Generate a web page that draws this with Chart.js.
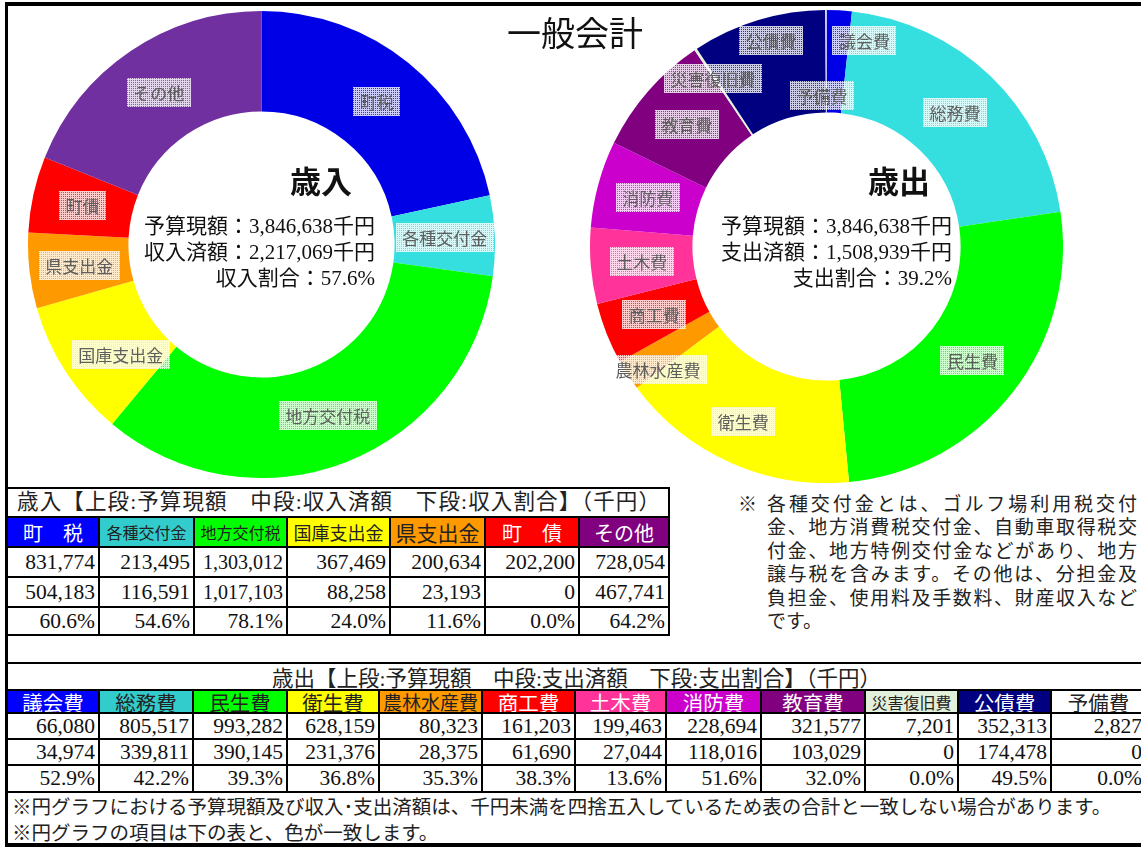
<!DOCTYPE html>
<html lang="ja">
<head>
<meta charset="utf-8">
<script src="https://cdn.jsdelivr.net/npm/chart.js@4.4.1/dist/chart.umd.min.js"></script>
<style>
body { margin:0; width:1141px; height:849px; overflow:hidden; background:#fff; position:relative;
  font-family:"Liberation Serif","Noto Sans CJK JP",serif; color:#111; }
#frame { position:absolute; left:5px; top:2px; width:1150px; height:837px;
  border-top:4px solid #000; border-left:3px solid #000; border-bottom:4px solid #000; }
canvas { position:absolute; }
#pieIn { left:28px; top:11px; }
#pieOut { left:590px; top:10px; }
.txt { position:absolute; white-space:nowrap; }
#title { left:507px; top:14px; font-size:34px; line-height:36px; font-family:"Noto Sans CJK JP"; }
.big { font-size:31px; line-height:31px; font-weight:bold; font-family:"Noto Sans CJK JP"; }
.sum { font-size:21px; line-height:26px; text-align:right; }
.cell { position:absolute; box-sizing:border-box; display:flex; align-items:center; white-space:nowrap; overflow:hidden; }
.num { justify-content:flex-end; padding-right:4px; font-size:21.5px; }
.head { justify-content:center; font-size:20px; }
.line { position:absolute; background:#000; }
#note { left:738px; top:491px; font-size:19px; line-height:23.4px; font-family:"Noto Sans CJK JP"; color:#222; }
#note .body { position:absolute; left:29px; top:0; width:370px; }
#note .body div { text-align:justify; text-align-last:justify; }
#note .body div.last { text-align-last:left; }
</style>
</head>
<body>
<div id="frame"></div>
<canvas id="pieIn" width="467" height="467"></canvas>
<canvas id="pieOut" width="473" height="473"></canvas>
<div id="sheet"></div>
<script>
// 歳入
const revenueCategories = ['町税', '各種交付金', '地方交付税', '国庫支出金', '県支出金', '町債', 'その他'];
const revenueBudget = [831774, 213495, 1303012, 367469, 200634, 202200, 728054];
const revenueReceived = [504183, 116591, 1017103, 88258, 23193, 0, 467741];
const revenueRate = [60.6, 54.6, 78.1, 24.0, 11.6, 0.0, 64.2];
const revenueSummary = ['予算現額：3,846,638千円', '収入済額：2,217,069千円', '収入割合：57.6%'];

// 歳出
const expenseCategories = ['議会費', '総務費', '民生費', '衛生費', '農林水産費', '商工費', '土木費', '消防費', '教育費', '災害復旧費', '公債費', '予備費'];
const expenseBudget = [66080, 805517, 993282, 628159, 80323, 161203, 199463, 228694, 321577, 7201, 352313, 2827];
const expenseSpent = [34974, 339811, 390145, 231376, 28375, 61690, 27044, 118016, 103029, 0, 174478, 0];
const expenseRate = [52.9, 42.2, 39.3, 36.8, 35.3, 38.3, 13.6, 51.6, 32.0, 0.0, 49.5, 0.0];
const expenseSummary = ['予算現額：3,846,638千円', '支出済額：1,508,939千円', '支出割合：39.2%'];

// colours
const revenuePieColors = ['#0000E6', '#36DFDF', '#00FF00', '#FFFF00', '#FF9900', '#FF0000', '#7030A0'];
const revenueHeadColors = ['#0000FF', '#33CCCC', '#00FF00', '#FFFF00', '#FF9900', '#FF0000', '#800080'];
const revenueHeadText = ['#fff', '#222', '#222', '#222', '#222', '#fff', '#fff'];
const revenueHeadSize = [20, 16, 16, 18, 21, 20, 20];
const expensePieColors = ['#0000E6', '#36DFDF', '#00FF00', '#FFFF00', '#FF9900', '#FF0000', '#FF3399', '#CC00CC', '#800080', '#E2EFDA', '#000080', '#FFFFFF'];
const expenseHeadColors = ['#0000FF', '#33CCCC', '#00FF00', '#FFFF00', '#FF9900', '#FF0000', '#FF3399', '#CC00CC', '#800080', '#E2EFDA', '#000080', '#FFFFFF'];
const expenseHeadText = ['#fff', '#222', '#222', '#222', '#222', '#fff', '#fff', '#fff', '#fff', '#222', '#fff', '#222'];
const expenseHeadSize = [20.5, 20.5, 20.5, 20.5, 19, 20.5, 20.5, 20.5, 20.5, 16, 20.5, 20.5];

// label nudges (Excel had some labels dragged)
const revenueNudge = [null, null, null, [13, 10], null, null, null];
const expenseNudge = [[28, -21], null, null, [-8, 6], [-13, 22], null, null, null, null, [-11, -14], [-2, -29], [-4, 34]];

function meshPattern(ctx) {
    const c = document.createElement('canvas');
    c.width = 2; c.height = 2;
    const g = c.getContext('2d');
    g.fillStyle = 'rgba(255,255,255,0.8)';
    g.fillRect(0, 0, 2, 1);
    g.fillRect(0, 1, 1, 1);
    g.fillStyle = 'rgba(255,255,255,0.2)';
    g.fillRect(1, 1, 1, 1);
    return ctx.createPattern(c, 'repeat');
}

function labelPlugin(nudges) {
    return {
        id: 'sliceLabels',
        afterDatasetsDraw(chart) {
            const ctx = chart.ctx;
            const meta = chart.getDatasetMeta(0);
            const mesh = meshPattern(ctx);
            ctx.save();
            ctx.font = '17px "Noto Sans CJK JP"';
            ctx.textAlign = 'center';
            ctx.textBaseline = 'middle';
            meta.data.forEach((arc, i) => {
                const p = arc.tooltipPosition();
                const n = nudges[i] || [0, 0];
                const x = p.x + n[0], y = p.y + n[1];
                const text = chart.data.labels[i];
                const w = ctx.measureText(text).width + 13;
                const h = 29;
                ctx.fillStyle = mesh;
                ctx.fillRect(Math.round(x - w / 2), Math.round(y - h / 2), Math.round(w), h);
                ctx.fillStyle = '#5e5e5e';
                ctx.fillText(text, x, y + 1);
            });
            ctx.restore();
        }
    };
}

function makeDoughnut(id, labels, values, colors, cutout, nudges) {
    return new Chart(document.getElementById(id), {
        type: 'doughnut',
        data: {
            labels: labels,
            datasets: [{ data: values, backgroundColor: colors, borderWidth: 0 }]
        },
        options: {
            responsive: false,
            animation: false,
            cutout: cutout,
            layout: { padding: 0 },
            plugins: { legend: { display: false }, tooltip: { enabled: false } }
        },
        plugins: [labelPlugin(nudges)]
    });
}

makeDoughnut('pieIn', revenueCategories, revenueBudget, revenuePieColors, '57%', revenueNudge);
makeDoughnut('pieOut', expenseCategories, expenseBudget, expensePieColors, '56.7%', expenseNudge);

const sheet = document.getElementById('sheet');

function addText(html, cls, style) {
    const d = document.createElement('div');
    d.className = 'txt ' + cls;
    Object.assign(d.style, style);
    d.innerHTML = html;
    sheet.appendChild(d);
    return d;
}

addText('一般会計', '', {}).id = 'title';
addText('歳入', 'big', { left: '290px', top: '164px' });
addText(revenueSummary.join('<br>'), 'sum', { right: (1141 - 375) + 'px', top: '213px' });
addText('歳出', 'big', { left: '868px', top: '164px' });
addText(expenseSummary.join('<br>'), 'sum', { right: (1141 - 952) + 'px', top: '213px' });

const noteLines = ['各種交付金とは、ゴルフ場利用税交付', '金、地方消費税交付金、自動車取得税交', '付金、地方特例交付金などがあり、地方',
    '譲与税を含みます。その他は、分担金及', '負担金、使用料及手数料、財産収入など', 'です。'];
addText('※<div class="body">' + noteLines.map((s, i) => '<div' + (i === noteLines.length - 1 ? ' class="last"' : '') + '>' + s + '</div>').join('') + '</div>', '', {}).id = 'note';

function cell(x0, y0, x1, y1, html, cls, style) {
    const d = document.createElement('div');
    d.className = 'cell ' + (cls || '');
    d.style.left = x0 + 'px';
    d.style.top = y0 + 'px';
    d.style.width = (x1 - x0) + 'px';
    d.style.height = (y1 - y0) + 'px';
    Object.assign(d.style, style || {});
    d.innerHTML = html;
    sheet.appendChild(d);
}
function hLine(x0, x1, y) {
    const d = document.createElement('div');
    d.className = 'line';
    Object.assign(d.style, { left: (x0 - 1) + 'px', top: (y - 1) + 'px', width: (x1 - x0 + 2) + 'px', height: '2px' });
    sheet.appendChild(d);
}
function vLine(x, y0, y1) {
    const d = document.createElement('div');
    d.className = 'line';
    Object.assign(d.style, { left: (x - 1) + 'px', top: (y0 - 1) + 'px', width: '2px', height: (y1 - y0 + 2) + 'px' });
    sheet.appendChild(d);
}
const fmt = v => v.toLocaleString('en-US');
const pct = v => v.toFixed(1) + '%';
const spaced = s => s.length === 2 ? s[0] + '　' + s[1] : s;

function buildTable(xs, ys, title, titleStyle, cats, headColors, headText, headSize, rows) {
    const L = xs[0], R = xs[xs.length - 1];
    const bottom = ys[2 + rows.length];
    cell(L, ys[0], R, ys[1], title, '', titleStyle);
    cats.forEach((c, i) => {
        cell(xs[i], ys[1], xs[i + 1], ys[2], spaced(c), 'head',
            { background: headColors[i], color: headText[i], fontSize: headSize[i] + 'px', fontFamily: '"Noto Sans CJK JP"' });
        rows.forEach((r, j) => {
            cell(xs[i], ys[2 + j], xs[i + 1], ys[3 + j], r.fmt(r.values[i]), 'num', r.size ? { fontSize: r.size(i) } : {});
        });
    });
    for (let k = 0; k <= 2 + rows.length; k++) hLine(L, R, ys[k]);
    xs.forEach((x, i) => {
        if (i === 0 || i === xs.length - 1) vLine(x, ys[0], bottom);
        else vLine(x, ys[1], bottom);
    });
}

// 歳入 table
const xs1 = [7, 99, 194, 287, 390, 485, 579, 669];
const ys1 = [488, 517, 547, 577, 607, 635];
buildTable(xs1, ys1, '歳入【上段:予算現額　中段:収入済額　下段:収入割合】（千円）',
    { display: 'block', lineHeight: '29px', padding: '0 9px 0 10px', fontSize: '21.5px', textAlign: 'justify', textAlignLast: 'justify', color: '#222' },
    revenueCategories, revenueHeadColors, revenueHeadText, revenueHeadSize,
    [
        { values: revenueBudget, fmt: fmt, size: i => i === 2 ? '20px' : '21.5px' },
        { values: revenueReceived, fmt: fmt, size: i => i === 2 ? '20px' : '21.5px' },
        { values: revenueRate, fmt: pct }
    ]);

// 歳出 table
const xs2 = [7, 99, 193, 287, 379, 482, 575, 666, 761, 865, 958, 1051, 1146];
const ys2 = [663, 690, 713, 739, 765, 792];
buildTable(xs2, ys2, '歳出【上段:予算現額　中段:支出済額　下段:支出割合】（千円）',
    { justifyContent: 'center', fontSize: '21.5px', color: '#222' },
    expenseCategories, expenseHeadColors, expenseHeadText, expenseHeadSize,
    [
        { values: expenseBudget, fmt: fmt },
        { values: expenseSpent, fmt: fmt },
        { values: expenseRate, fmt: pct }
    ]);
cell(7, 792, 1146, 818, '※円グラフにおける予算現額及び収入･支出済額は、千円未満を四捨五入しているため表の合計と一致しない場合があります。', '', { paddingLeft: '5px', fontSize: '19.5px', fontFamily: '"Noto Sans CJK JP"', color: '#222' });
cell(7, 818, 1146, 844, '※円グラフの項目は下の表と、色が一致します。', '', { paddingLeft: '5px', fontSize: '19.5px', fontFamily: '"Noto Sans CJK JP"', color: '#222' });
</script>
</body>
</html>
